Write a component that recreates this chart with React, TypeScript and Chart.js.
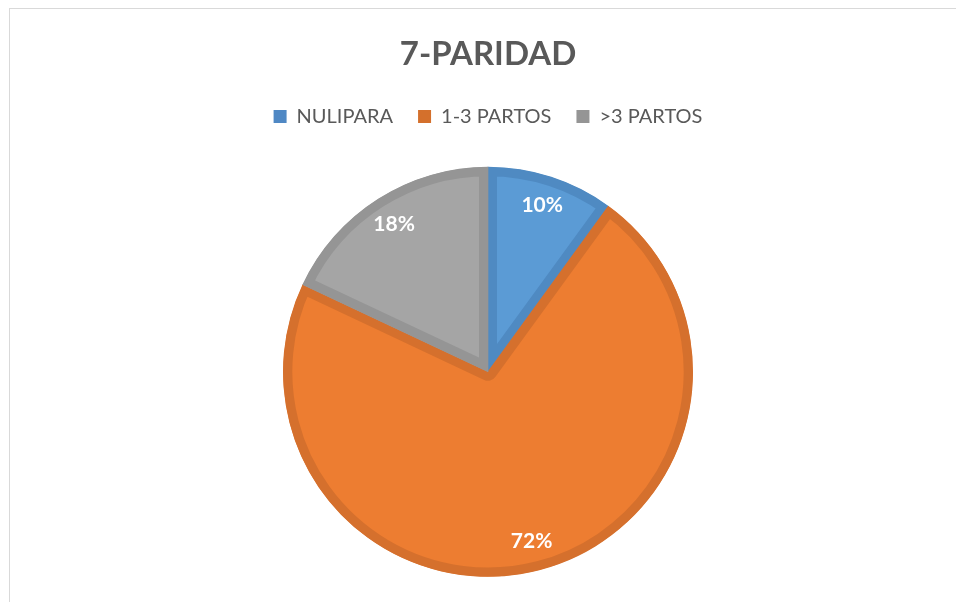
import React, { useEffect, useRef } from "react";
import { Chart, registerables } from "chart.js";

Chart.register(...registerables);

const TITLE = "7-PARIDAD";
const categories = ["NULIPARA", "1-3 PARTOS", ">3 PARTOS"];
const values = [10, 72, 18];
const fillColors = ["#5B9BD5", "#ED7D31", "#A5A5A5"];
const borderColors = ["#4F8AC2", "#D5702D", "#959595"];
const legendColors = ["#4F88C4", "#D4702C", "#959595"];

const labelPlugin = {
  id: "sliceLabels",
  afterDatasetsDraw(chart: any) {
    const ctx = chart.ctx;
    const meta = chart.getDatasetMeta(0);
    const total = values.reduce((a, b) => a + b, 0);
    ctx.save();
    ctx.fillStyle = "#FFFFFF";
    ctx.font = "bold 21px Lato";
    ctx.textAlign = "center";
    ctx.textBaseline = "middle";
    meta.data.forEach((arc: any, i: number) => {
      const p = arc.getProps(["x", "y", "startAngle", "endAngle", "outerRadius"], true);
      const mid = (p.startAngle + p.endAngle) / 2;
      const r = p.outerRadius * 0.855;
      const pct = Math.round((values[i] / total) * 100) + "%";
      ctx.fillText(pct, p.x + Math.cos(mid) * r, p.y + Math.sin(mid) * r);
    });
    ctx.restore();
  },
};

export default function App() {
  const ref = useRef<HTMLCanvasElement | null>(null);
  useEffect(() => {
    if (!ref.current) return;
    const chart = new Chart(ref.current, {
      type: "pie",
      data: {
        labels: categories,
        datasets: [
          {
            data: values,
            backgroundColor: fillColors,
            borderColor: borderColors,
            borderWidth: 9,
            borderAlign: "inner",
            hoverOffset: 0,
          },
        ],
      },
      options: {
        animation: false,
        responsive: false,
        radius: 205,
        layout: { padding: { left: 10, right: 0, top: 0, bottom: 0 } },
        plugins: {
          tooltip: { enabled: false },
          title: {
            display: true,
            text: TITLE,
            color: "#595959",
            font: { family: "Lato", size: 33, weight: "bold" },
            padding: { top: 26, bottom: 7 },
          },
          legend: {
            display: true,
            position: "top",
            labels: {
              color: "#595959",
              font: { family: "Lato", size: 20 },
              boxWidth: 13,
              boxHeight: 13,
              padding: 25,
              generateLabels: (c: any) =>
                categories.map((name, i) => ({
                  text: name,
                  fillStyle: legendColors[i],
                  strokeStyle: legendColors[i],
                  lineWidth: 0,
                  fontColor: "#595959",
                  hidden: false,
                  index: i,
                })),
            },
          },
        },
      },
      plugins: [labelPlugin],
    });
    return () => chart.destroy();
  }, []);
  return (
    <div
      style={{
        position: "fixed",
        left: 9,
        top: 8,
        width: 960,
        height: 610,
        border: "1px solid #D9D9D9",
        background: "#FFFFFF",
      }}
    >
      <canvas ref={ref} width={946} height={598} style={{ display: "block" }} />
    </div>
  );
}
